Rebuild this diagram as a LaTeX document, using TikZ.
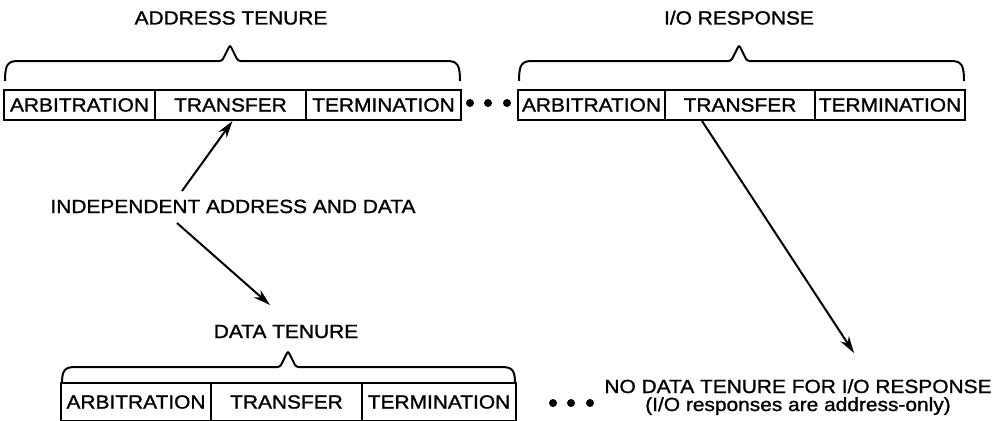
\documentclass[tikz,border=0pt]{standalone}
\usepackage{fontspec}
\newfontfamily\lab[FakeStretch=1.1,FakeBold=1.2]{Liberation Sans}
\usetikzlibrary{arrows.meta,calc}
\newcommand\tbrace[5]{% x0, x1, peak x, horizontal y, end y
  \draw[brace] (#1,#5) .. controls (#1,#4+3) and (#1+3,#4) .. (#1+16,#4)
    -- (#3-8,#4) -- (#3,#4-16) -- (#3+8,#4) -- (#2-16,#4)
    .. controls (#2-3,#4) and (#2,#4+3) .. (#2,#5);}
\begin{document}
\begin{tikzpicture}[x=1pt,y=-1pt,
  every node/.style={font=\lab\fontsize{19}{23}\selectfont, inner sep=0pt},
  cell/.style={draw, line width=2pt, minimum height=30pt},
  bcell/.style={cell, minimum height=38pt},
  dotn/.style={circle, fill, minimum size=8pt, inner sep=0pt},
  arr/.style={line width=2pt, -{Stealth[length=17pt,width=10pt]}},
  brace/.style={line width=2pt, rounded corners=2.5pt}]
\useasboundingbox (0,0) rectangle (1008,420);
\clip (0,0) rectangle (1008,420);
\fill[white] (0,0) rectangle (1008,420);

% address tenure
\node[anchor=base] (at) at (231,24.5) {ADDRESS TENURE};
\tbrace{5}{460}{230}{61}{81}
\node[cell, minimum width=151pt] (a1) at (79.5,105) {ARBITRATION};
\node[cell, minimum width=151pt] (a2) at (230.5,105) {TRANSFER};
\node[cell, minimum width=155pt] (a3) at (383.5,105) {TERMINATION};

\node[dotn] (td1) at (470,103) {};
\node[dotn] (td2) at (488,103) {};
\node[dotn] (td3) at (507,103) {};

% I/O response
\node[anchor=base] (it) at (739,24.5) {I/O RESPONSE};
\tbrace{519}{964}{739}{61}{81}
\node[cell, minimum width=147pt] (r1) at (591.5,105) {ARBITRATION};
\node[cell, minimum width=150pt] (r2) at (740,105) {TRANSFER};
\node[cell, minimum width=150pt] (r3) at (890,105) {TERMINATION};

% independent label and arrows
\node[anchor=base] (ind) at (233,213) {INDEPENDENT ADDRESS AND DATA};
\coordinate (s1) at (182,191);
\coordinate (s2) at (177,223);
\coordinate (e2) at (270,305);
\draw[arr] (s1) -- ([xshift=2pt]a2.south);
\draw[arr] (s2) -- (e2);

% data tenure
\node[anchor=base] (dt) at (286,338) {DATA TENURE};
\tbrace{62}{515}{288}{367}{383}
\node[bcell, minimum width=150pt] (b1) at (136,402) {ARBITRATION};
\node[bcell, minimum width=151pt] (b2) at (286.5,402) {TRANSFER};
\node[bcell, minimum width=154pt] (b3) at (439,402) {TERMINATION};

\node[dotn] (bd1) at (553,403) {};
\node[dotn] (bd2) at (571,403) {};
\node[dotn] (bd3) at (590,403) {};

% no data tenure
\node[anchor=base] (nd1) at (798,393) {NO DATA TENURE FOR I/O RESPONSE};
\node[anchor=base] (nd2) at (798,411) {(I/O responses are address-only)};
\coordinate (e3) at (854,353);
\draw[arr] ([xshift=-38pt]r2.south) -- (e3);
\end{tikzpicture}
\end{document}
